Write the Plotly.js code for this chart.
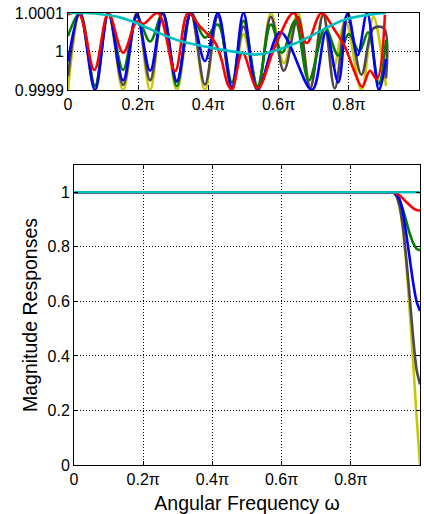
<!DOCTYPE html>
<html>
<head>
<meta charset="utf-8">
<script src="https://cdn.plot.ly/plotly-3.0.1.min.js"></script>
<style>html,body{margin:0;padding:0;background:#fff;}#plot{width:424px;height:514px;}</style>
</head>
<body>
<div id="plot"></div>
<script>
// ---- Top panel: passband ripple, deviation from 1 in units of 1e-4, frequency in units of pi ----
const rippleYellowX = [0,0.034,0.077,0.115,0.157,0.196,0.234,0.27,0.31,0.35,0.39,0.427,0.467,0.5,0.54,0.578,0.615,0.655,0.69,0.727,0.757,0.79,0.836,0.87,0.9,0.906];
const rippleYellowY = [-1,1,-1,1,-1,1,-1,1,-1,1,-1,1,-1,0.45,-1,1,-0.3,1,-0.9,1,-0.4,0.8,-1,0.9,-0.5,-0.9];

const rippleGrayX = [0,0.034,0.077,0.115,0.157,0.196,0.234,0.27,0.31,0.35,0.39,0.427,0.467,0.5,0.54,0.578,0.615,0.655,0.69,0.727,0.76,0.795,0.836,0.87,0.9,0.906];
const rippleGrayY = [-0.64,1,-0.9,1,-0.87,1,-0.75,1,-0.77,1,-0.86,0.92,-0.95,0.65,-0.95,0.9,-0.5,0.9,-0.96,0.95,-0.96,0.95,-0.6,0.6,0.6,-0.7];

const rippleGreenX = [0,0.034,0.077,0.115,0.157,0.196,0.234,0.27,0.31,0.35,0.39,0.427,0.467,0.5,0.54,0.578,0.61,0.647,0.686,0.733,0.77,0.8,0.83,0.855,0.886,0.906];
const rippleGreenY = [0.4,1,-0.9,1,-0.48,0.9,0.26,1,-0.9,1,0.36,0.7,-0.8,0.8,-0.9,0.7,-0.03,0.8,-0.75,0.6,-0.1,0.45,0.0,0.5,-0.85,0.3];

const rippleBlueX = [0,0.034,0.077,0.115,0.157,0.196,0.234,0.27,0.31,0.35,0.39,0.427,0.467,0.5,0.54,0.605,0.695,0.735,0.77,0.797,0.825,0.852,0.886,0.906];
const rippleBlueY = [-0.26,1,-1,1,-0.75,0.95,-0.5,1,-0.78,1,-0.25,1,-0.92,1,-1,0.5,-1,0.5,-0.8,1,-0.1,1,-1,-0.2];

const rippleRedX = [0,0.03,0.075,0.115,0.157,0.196,0.215,0.256,0.305,0.342,0.376,0.4,0.42,0.437,0.455,0.467,0.497,0.54,0.59,0.643,0.68,0.722,0.76,0.79,0.815,0.838,0.86,0.88,0.903];
const rippleRedY = [0.96,1,-0.48,1,-0.03,0.78,0.72,1,-0.51,1,0.65,0.43,0.22,-0.2,-0.85,-1,-0.03,-0.96,0.14,1,0.22,1,0.55,0.1,-0.5,-0.92,-0.5,-0.72,0.95];

const rippleCyanX = [0,0.05,0.1,0.15,0.2,0.234,0.32,0.405,0.49,0.536,0.593,0.65,0.7,0.79,0.886,0.906];
const rippleCyanY = [1,1,0.96,0.88,0.72,0.58,0.27,0.1,-0.03,-0.08,0.03,0.22,0.44,0.83,0.99,1];

// ---- Bottom panel: full magnitude responses ----
const respFreq   = [0,0.2,0.4,0.6,0.8,0.9,0.91,0.92,0.93,0.94,0.95,0.96,0.97,0.98,0.99,1.0];
const respYellow = [1,1,1,1,1,1,1,1,0.99,0.95,0.87,0.74,0.57,0.38,0.18,0.0];
const respGray   = [1,1,1,1,1,1,1,1,0.99,0.955,0.88,0.76,0.62,0.47,0.35,0.295];
const respGreen  = [1,1,1,1,1,1,1,1,0.995,0.975,0.94,0.895,0.85,0.815,0.793,0.787];
const respBlue   = [1,1,1,1,1,1,1,1,0.995,0.975,0.93,0.85,0.76,0.67,0.6,0.565];
const respRed    = [1,1,1,1,1,1,1,1,0.998,0.99,0.978,0.965,0.953,0.942,0.935,0.932];
const respCyan   = [1,1,1,1,1,1,1,1,1,1,1,1,1,1,1,1];

const xTickVals  = [0,0.2,0.4,0.6,0.8,1];
const xTickText  = ['0','0.2π','0.4π','0.6π','0.8π','π'];
const topYTickVals = [0.9999,1,1.0001];
const topYTickText = ['0.9999','1','1.0001'];
const botYTickVals = [0,0.2,0.4,0.6,0.8,1];
const botYTickText = ['0','0.2','0.4','0.6','0.8','1'];

const colors = {yellow:'#c8c800', gray:'#4f4650', green:'#007f00', blue:'#0000ff', red:'#ff0000', cyan:'#00bfbf'};

const toMag = d => d.map(v => 1 + v*1e-4);
const lw = 2.6;
const traces = [];
function addTop(x, y, c){
  traces.push({x:x, y:toMag(y), type:'scatter', mode:'lines', xaxis:'x', yaxis:'y',
    line:{color:c, width:lw, shape:'spline', smoothing:1}, hoverinfo:'skip', showlegend:false});
}
function addBot(y, c){
  traces.push({x:respFreq, y:y, type:'scatter', mode:'lines', xaxis:'x2', yaxis:'y2',
    line:{color:c, width:lw, shape:'spline', smoothing:0.6}, hoverinfo:'skip', showlegend:false});
}
addTop(rippleYellowX, rippleYellowY, colors.yellow);
addTop(rippleGrayX, rippleGrayY, colors.gray);
addTop(rippleGreenX, rippleGreenY, colors.green);
addTop(rippleBlueX, rippleBlueY, colors.blue);
addTop(rippleRedX, rippleRedY, colors.red);
addTop(rippleCyanX, rippleCyanY, colors.cyan);
addBot(respYellow, colors.yellow);
addBot(respGray, colors.gray);
addBot(respGreen, colors.green);
addBot(respBlue, colors.blue);
addBot(respRed, colors.red);
addBot(respCyan, colors.cyan);

const font = {family:'Liberation Sans, Arial, Helvetica, sans-serif', size:16, color:'#000'};
const axCommon = {showline:true, mirror:'ticks', linecolor:'#000', linewidth:1, ticks:'inside', ticklen:4,
  tickcolor:'#000', zeroline:false, showgrid:true, gridcolor:'#000', gridwidth:1, griddash:'1px,2px',
  tickfont:font, fixedrange:true};

const W = 424, H = 514;
const titleFont = {family:font.family, size:19.5, color:'#000'};
const layout = {
  width:W, height:H, margin:{l:0,r:0,t:0,b:0}, paper_bgcolor:'#fff', plot_bgcolor:'#fff',
  font:font, showlegend:false,
  xaxis: Object.assign({}, axCommon, {domain:[68/W, 419/W], range:[0,1], anchor:'y',
    tickvals:xTickVals.slice(0,5), ticktext:xTickText.slice(0,5)}),
  yaxis: Object.assign({}, axCommon, {domain:[(H-90)/H, (H-13)/H], range:[0.9999,1.0001], anchor:'x',
    tickvals:topYTickVals, ticktext:topYTickText}),
  xaxis2: Object.assign({}, axCommon, {domain:[74/W, 420/W], range:[0,1], anchor:'y2',
    tickvals:xTickVals, ticktext:xTickText,
    title:{text:'Angular Frequency ω', font:titleFont, standoff:10}}),
  yaxis2: Object.assign({}, axCommon, {domain:[(H-465)/H, (H-165)/H], range:[0,1.1], anchor:'x2',
    tickvals:botYTickVals, ticktext:botYTickText,
    title:{text:'Magnitude Responses', font:titleFont, standoff:4}})
};
Plotly.newPlot('plot', traces, layout, {staticPlot:true, displayModeBar:false});
</script>
</body>
</html>
